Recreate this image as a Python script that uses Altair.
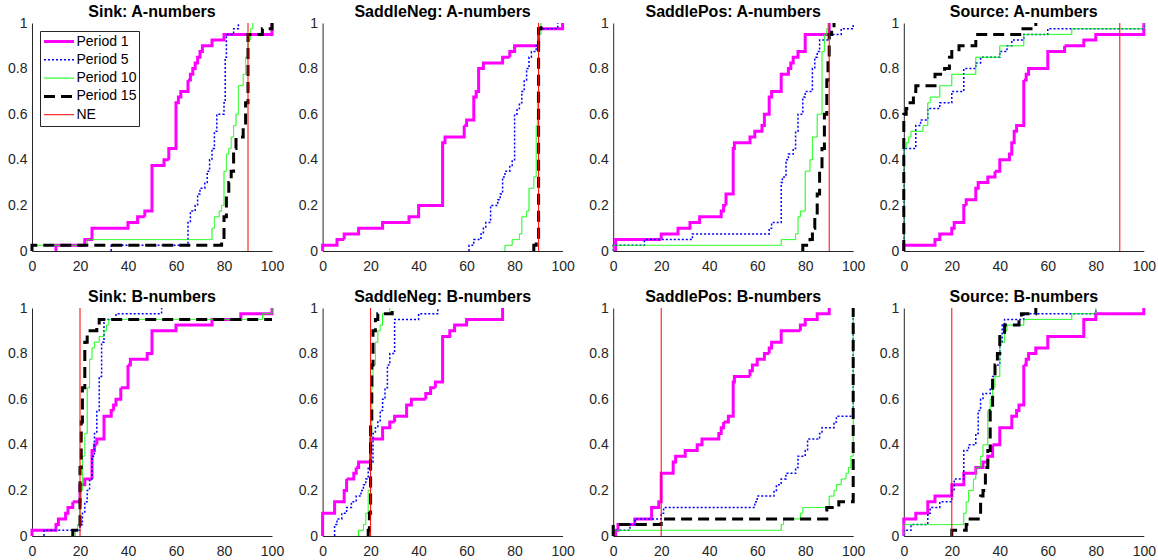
import altair as alt
import pandas as pd

SERIES = ["Period 1", "Period 5", "Period 10", "Period 15", "NE"]
COLORS = ["#FF00FF", "#0000FF", "#00FF00", "#000000", "#FF0000"]
WIDTHS = [3, 1.5, 1, 3, 1]
DASHES = [[1, 0], [2, 2], [1, 0], [11, 6], [1, 0]]

X_TICKS = [0, 20, 40, 60, 80, 100]
Y_TICKS = [0, 0.2, 0.4, 0.6, 0.8, 1]

# ---------------- Sink: A-numbers (NE = 90)
SINK_A_P1_X = [10, 10, 22, 25, 40, 44, 47, 50, 55, 57, 60, 61, 62, 65, 66, 67, 68, 69, 70, 71, 75, 80, 100]
SINK_A_P1_Y = [0, 0.025, 0.05, 0.1, 0.125, 0.15, 0.175, 0.375, 0.4, 0.45, 0.65, 0.675, 0.7, 0.75, 0.775, 0.8, 0.825, 0.85, 0.875, 0.9, 0.925, 0.95, 1.0]
SINK_A_P5_X = [33, 33, 65, 66, 68, 69, 70, 72, 73, 74, 75, 76, 77, 80, 80.5, 81, 84, 86]
SINK_A_P5_Y = [0, 0.025, 0.125, 0.175, 0.2, 0.25, 0.275, 0.3, 0.35, 0.4, 0.45, 0.525, 0.6, 0.65, 0.85, 0.95, 0.975, 1.0]
SINK_A_P10_X = [0, 0, 23, 75, 76, 78, 79, 80, 81, 82, 83, 84, 85, 86, 88, 89, 90, 91, 92]
SINK_A_P10_Y = [0, 0.025, 0.05, 0.1, 0.15, 0.175, 0.2, 0.35, 0.425, 0.45, 0.5, 0.55, 0.6, 0.725, 0.775, 0.85, 0.925, 0.975, 1.0]
SINK_A_P15_X = [0, 0, 79, 80, 81, 82, 83, 84, 85, 88, 89, 90, 96, 100]
SINK_A_P15_Y = [0, 0.025, 0.05, 0.15, 0.25, 0.3, 0.35, 0.45, 0.5, 0.55, 0.65, 0.95, 0.975, 1.0]

# ---------------- SaddleNeg: A-numbers (NE = 90)
SNEG_A_P1_X = [0, 0, 6, 9, 15, 25, 36, 40, 50, 51, 59, 60, 63, 64, 65, 67, 75, 78, 80, 90, 100]
SNEG_A_P1_Y = [0, 0.025, 0.05, 0.075, 0.1, 0.125, 0.15, 0.2, 0.475, 0.5, 0.55, 0.575, 0.675, 0.7, 0.8, 0.825, 0.85, 0.875, 0.9, 0.975, 1.0]
SNEG_A_P5_X = [61, 61, 63, 66, 67, 68, 70, 73, 74, 75, 76, 78, 79, 80, 81, 82, 83, 84, 85, 86, 87, 89, 90, 98]
SNEG_A_P5_Y = [0, 0.025, 0.05, 0.075, 0.1, 0.125, 0.2, 0.225, 0.25, 0.325, 0.35, 0.375, 0.4, 0.6, 0.625, 0.65, 0.7, 0.75, 0.8, 0.85, 0.875, 0.9, 0.975, 1.0]
SNEG_A_P10_X = [76, 76, 79, 82, 83, 85, 86, 88, 89, 89.5, 90, 91]
SNEG_A_P10_Y = [0, 0.025, 0.05, 0.075, 0.15, 0.175, 0.275, 0.325, 0.55, 0.7, 0.95, 1.0]
SNEG_A_P15_X = [88, 88, 89, 90, 91]
SNEG_A_P15_Y = [0, 0.025, 0.05, 0.975, 1.0]

# ---------------- SaddlePos: A-numbers (NE = 90)
SPOS_A_P1_X = [1, 1, 20, 27, 32, 36, 45, 46, 47, 50, 50.5, 57, 59, 62, 63, 65, 66, 70, 73, 74, 75, 77, 80, 90]
SPOS_A_P1_Y = [0, 0.05, 0.075, 0.1, 0.125, 0.15, 0.175, 0.2, 0.25, 0.45, 0.475, 0.5, 0.525, 0.55, 0.6, 0.675, 0.7, 0.775, 0.8, 0.825, 0.85, 0.875, 0.95, 1.0]
SPOS_A_P5_X = [0, 0, 13, 33, 65, 66, 70, 70.5, 72, 73, 75, 76, 77, 79, 80, 83, 84, 85, 86, 90, 95, 100]
SPOS_A_P5_Y = [0, 0.025, 0.05, 0.075, 0.1, 0.125, 0.3, 0.325, 0.4, 0.425, 0.45, 0.525, 0.6, 0.675, 0.7, 0.8, 0.85, 0.875, 0.925, 0.95, 0.975, 1.0]
SPOS_A_P10_X = [0, 0, 70, 76, 77, 78, 80, 82, 83, 85, 87, 88, 89, 90]
SPOS_A_P10_Y = [0, 0.025, 0.05, 0.075, 0.15, 0.175, 0.35, 0.4, 0.5, 0.6, 0.875, 0.95, 0.975, 1.0]
SPOS_A_P15_X = [79, 79, 82, 83, 84, 85, 86, 87, 88, 89, 89.5, 90, 91, 92]
SPOS_A_P15_Y = [0, 0.025, 0.05, 0.1, 0.15, 0.25, 0.35, 0.45, 0.6, 0.75, 0.85, 0.95, 0.975, 1.0]

# ---------------- Source: A-numbers (NE = 90)
SRC_A_P1_X = [0, 0, 13, 15, 20, 21, 25, 26, 30, 31, 35, 38, 40, 44, 45, 46, 47, 50, 51, 52, 60, 67, 75, 80, 100]
SRC_A_P1_Y = [0, 0.025, 0.05, 0.075, 0.1, 0.125, 0.2, 0.225, 0.275, 0.3, 0.325, 0.35, 0.4, 0.425, 0.475, 0.525, 0.55, 0.75, 0.775, 0.8, 0.875, 0.9, 0.925, 0.95, 1.0]
SRC_A_P5_X = [0, 0, 5, 7, 10, 15, 20, 25, 30, 32, 40, 43, 45, 50, 60, 100]
SRC_A_P5_Y = [0, 0.45, 0.55, 0.575, 0.625, 0.65, 0.7, 0.8, 0.825, 0.85, 0.875, 0.9, 0.925, 0.95, 0.975, 1.0]
SRC_A_P10_X = [0, 0, 1, 2, 3, 8, 10, 11, 15, 20, 30, 40, 50, 70, 100]
SRC_A_P10_Y = [0, 0.45, 0.475, 0.5, 0.525, 0.55, 0.65, 0.675, 0.725, 0.775, 0.85, 0.9, 0.95, 0.975, 1.0]
SRC_A_P15_X = [0, 0, 1, 2, 4, 5, 13, 17, 19, 20, 23, 30, 49, 55]
SRC_A_P15_Y = [0, 0.6, 0.625, 0.65, 0.7, 0.725, 0.775, 0.8, 0.85, 0.875, 0.9, 0.95, 0.975, 1.0]

# ---------------- Sink: B-numbers (NE = 20)
SINK_B_P1_X = [0, 0, 10, 11, 14, 15, 17, 20, 22, 25, 26, 27, 30, 33, 34, 35, 37, 40, 41, 48, 50, 60, 75, 87, 100]
SINK_B_P1_Y = [0, 0.025, 0.05, 0.075, 0.1, 0.125, 0.15, 0.225, 0.25, 0.375, 0.4, 0.425, 0.525, 0.55, 0.575, 0.6, 0.65, 0.75, 0.775, 0.8, 0.9, 0.925, 0.95, 0.975, 1.0]
SINK_B_P5_X = [5, 5, 20, 21, 22, 23, 24, 25, 26, 27, 28, 29, 30, 35, 54]
SINK_B_P5_Y = [0, 0.025, 0.05, 0.1, 0.15, 0.2, 0.25, 0.35, 0.45, 0.55, 0.7, 0.85, 0.95, 0.975, 1.0]
SINK_B_P10_X = [18, 18, 19, 20, 21, 22, 23, 24, 25, 26, 28, 30, 31, 32, 96, 100]
SINK_B_P10_Y = [0, 0.025, 0.05, 0.2, 0.35, 0.45, 0.65, 0.775, 0.825, 0.85, 0.875, 0.9, 0.925, 0.95, 0.975, 1.0]
SINK_B_P15_X = [17, 17, 20, 20.5, 21, 22, 23, 27, 28, 100]
SINK_B_P15_Y = [0, 0.025, 0.3, 0.5, 0.65, 0.85, 0.9, 0.925, 0.95, 0.95]

# ---------------- SaddleNeg: B-numbers (NE = 20)
SNEG_B_P1_X = [0, 0, 5, 9, 10, 13, 14, 15, 20, 25, 28, 30, 35, 37, 43, 45, 47, 50, 53, 55, 60, 75]
SNEG_B_P1_Y = [0, 0.1, 0.15, 0.2, 0.25, 0.275, 0.3, 0.325, 0.425, 0.475, 0.5, 0.525, 0.575, 0.6, 0.625, 0.65, 0.675, 0.875, 0.9, 0.925, 0.95, 1.0]
SNEG_B_P5_X = [5, 5, 6, 8, 10, 12, 14, 16, 17, 18, 19, 20, 21, 22, 23, 24, 25, 26, 27, 28, 30, 40, 48]
SNEG_B_P5_Y = [0, 0.05, 0.075, 0.1, 0.125, 0.15, 0.175, 0.2, 0.225, 0.25, 0.3, 0.325, 0.45, 0.475, 0.5, 0.55, 0.6, 0.65, 0.75, 0.8, 0.95, 0.975, 1.0]
SNEG_B_P10_X = [15, 15, 17, 18, 19, 20, 20.5, 21, 22, 23, 24, 25, 28]
SNEG_B_P10_Y = [0, 0.025, 0.05, 0.1, 0.2, 0.45, 0.65, 0.75, 0.85, 0.9, 0.925, 0.975, 1.0]
SNEG_B_P15_X = [19, 19, 19.5, 20, 20.5, 21, 22, 23, 29]
SNEG_B_P15_Y = [0, 0.025, 0.1, 0.5, 0.75, 0.9, 0.95, 0.975, 1.0]

# ---------------- SaddlePos: B-numbers (NE = 20)
SPOS_B_P1_X = [1, 1, 2, 9, 16, 19, 20, 25, 26, 30, 35, 37, 44, 45, 46, 48, 50, 50.5, 57, 58, 60, 63, 65, 66, 70, 78, 80, 85, 90]
SPOS_B_P1_Y = [0, 0.025, 0.05, 0.075, 0.125, 0.15, 0.275, 0.325, 0.35, 0.375, 0.4, 0.425, 0.45, 0.475, 0.5, 0.525, 0.675, 0.7, 0.725, 0.75, 0.775, 0.8, 0.825, 0.85, 0.9, 0.925, 0.95, 0.975, 1.0]
SPOS_B_P5_X = [0, 0, 7, 9, 20, 21, 59, 60, 67, 68, 70, 72, 76, 77, 80, 81, 86, 87, 92, 93, 100]
SPOS_B_P5_Y = [0, 0.025, 0.05, 0.075, 0.1, 0.125, 0.15, 0.175, 0.2, 0.225, 0.25, 0.275, 0.3, 0.35, 0.375, 0.425, 0.45, 0.475, 0.5, 0.525, 1.0]
SPOS_B_P10_X = [0, 0, 70, 71, 78, 79, 90, 92, 93, 95, 97, 98, 99, 100]
SPOS_B_P10_Y = [0, 0.025, 0.05, 0.075, 0.1, 0.125, 0.175, 0.2, 0.225, 0.25, 0.275, 0.3, 0.35, 1.0]
SPOS_B_P15_X = [0, 0, 20, 89, 94, 100]
SPOS_B_P15_Y = [0, 0.05, 0.075, 0.125, 0.15, 1.0]

# ---------------- Source: B-numbers (NE = 20)
SRC_B_P1_X = [0, 0, 5, 10, 13, 20, 25, 30, 33, 35, 37, 40, 45, 47, 48, 50, 51, 52, 55, 60, 75, 80, 100]
SRC_B_P1_Y = [0, 0.075, 0.1, 0.15, 0.175, 0.225, 0.275, 0.3, 0.325, 0.35, 0.4, 0.475, 0.525, 0.55, 0.575, 0.75, 0.775, 0.8, 0.825, 0.875, 0.95, 0.975, 1.0]
SRC_B_P5_X = [0, 0, 3, 10, 11, 15, 20, 21, 25, 27, 30, 31, 32, 33, 36, 37, 38, 40, 41, 42, 50, 80]
SRC_B_P5_Y = [0, 0.025, 0.05, 0.1, 0.125, 0.15, 0.2, 0.25, 0.375, 0.4, 0.45, 0.55, 0.6, 0.625, 0.65, 0.7, 0.75, 0.85, 0.925, 0.95, 0.975, 1.0]
SRC_B_P10_X = [0, 0, 25, 26, 27, 29, 30, 32, 33, 35, 36, 37, 38, 40, 42, 43, 50, 70, 80]
SRC_B_P10_Y = [0, 0.05, 0.1, 0.15, 0.2, 0.25, 0.3, 0.35, 0.4, 0.55, 0.6, 0.65, 0.7, 0.85, 0.9, 0.925, 0.95, 0.975, 1.0]
SRC_B_P15_X = [20, 20, 26, 27, 32, 33, 34, 35, 36, 37, 38, 39, 40, 42, 48, 49, 55]
SRC_B_P15_Y = [0, 0.025, 0.05, 0.075, 0.175, 0.2, 0.3, 0.375, 0.55, 0.7, 0.75, 0.8, 0.875, 0.925, 0.95, 0.975, 1.0]

TITLES = ["Sink: A-numbers", "SaddleNeg: A-numbers", "SaddlePos: A-numbers", "Source: A-numbers",
          "Sink: B-numbers", "SaddleNeg: B-numbers", "SaddlePos: B-numbers", "Source: B-numbers"]
NE_VALUES = [90, 90, 90, 90, 20, 20, 20, 20]
CURVES = [
    [(SINK_A_P1_X, SINK_A_P1_Y), (SINK_A_P5_X, SINK_A_P5_Y), (SINK_A_P10_X, SINK_A_P10_Y), (SINK_A_P15_X, SINK_A_P15_Y)],
    [(SNEG_A_P1_X, SNEG_A_P1_Y), (SNEG_A_P5_X, SNEG_A_P5_Y), (SNEG_A_P10_X, SNEG_A_P10_Y), (SNEG_A_P15_X, SNEG_A_P15_Y)],
    [(SPOS_A_P1_X, SPOS_A_P1_Y), (SPOS_A_P5_X, SPOS_A_P5_Y), (SPOS_A_P10_X, SPOS_A_P10_Y), (SPOS_A_P15_X, SPOS_A_P15_Y)],
    [(SRC_A_P1_X, SRC_A_P1_Y), (SRC_A_P5_X, SRC_A_P5_Y), (SRC_A_P10_X, SRC_A_P10_Y), (SRC_A_P15_X, SRC_A_P15_Y)],
    [(SINK_B_P1_X, SINK_B_P1_Y), (SINK_B_P5_X, SINK_B_P5_Y), (SINK_B_P10_X, SINK_B_P10_Y), (SINK_B_P15_X, SINK_B_P15_Y)],
    [(SNEG_B_P1_X, SNEG_B_P1_Y), (SNEG_B_P5_X, SNEG_B_P5_Y), (SNEG_B_P10_X, SNEG_B_P10_Y), (SNEG_B_P15_X, SNEG_B_P15_Y)],
    [(SPOS_B_P1_X, SPOS_B_P1_Y), (SPOS_B_P5_X, SPOS_B_P5_Y), (SPOS_B_P10_X, SPOS_B_P10_Y), (SPOS_B_P15_X, SPOS_B_P15_Y)],
    [(SRC_B_P1_X, SRC_B_P1_Y), (SRC_B_P5_X, SRC_B_P5_Y), (SRC_B_P10_X, SRC_B_P10_Y), (SRC_B_P15_X, SRC_B_P15_Y)],
]

FONT = "Liberation Sans"
PW, PH = 240, 228

x_enc = alt.X("x:Q", scale=alt.Scale(domain=[0, 100], nice=False, zero=False),
              axis=alt.Axis(values=X_TICKS, format="d", title=None, ticks=False, grid=False,
                            labelFlush=False, labelPadding=8, minExtent=22, maxExtent=22))
y_enc = alt.Y("y:Q", scale=alt.Scale(domain=[0, 1], nice=False, zero=False),
              axis=alt.Axis(values=Y_TICKS, format="~g", title=None, ticks=False, grid=False,
                            labelFlush=False, labelPadding=5, minExtent=27, maxExtent=27))
color_enc = alt.Color("series:N", scale=alt.Scale(domain=SERIES, range=COLORS), title=None)
dash_enc = alt.StrokeDash("series:N", scale=alt.Scale(domain=SERIES, range=DASHES), title=None)
width_enc = alt.StrokeWidth("series:N", scale=alt.Scale(type="ordinal", domain=SERIES, range=WIDTHS),
                            title=None)


def make_panel(title, ne, curves):
    layers = []
    for name, (xs, ys) in zip(SERIES[:4], curves):
        df = pd.DataFrame({"x": xs, "y": ys, "series": name, "i": list(range(len(xs)))})
        layers.append(
            alt.Chart(df).mark_line(interpolate="step-after").encode(
                x=x_enc, y=y_enc, order="i:Q",
                color=color_enc, strokeDash=dash_enc, strokeWidth=width_enc)
        )
    ne_df = pd.DataFrame({"x": [ne], "series": ["NE"]})
    layers.append(
        alt.Chart(ne_df).mark_rule().encode(
            x=x_enc, color=color_enc, strokeDash=dash_enc, strokeWidth=width_enc)
    )
    return alt.layer(*layers).properties(
        width=PW, height=PH,
        title=alt.TitleParams(title, fontSize=16, fontWeight="bold", font=FONT, color="black",
                              anchor="middle", frame="group", baseline="bottom", offset=-20),
    )


panels = [make_panel(t, n, c) for t, n, c in zip(TITLES, NE_VALUES, CURVES)]
top = alt.hconcat(*panels[:4], spacing=11.6)
bottom = alt.hconcat(*panels[4:], spacing=11.6)

chart = alt.vconcat(top, bottom, spacing=16).configure_view(
    strokeOpacity=0
).configure_axis(
    labelFont=FONT, labelFontSize=14, labelColor="#262626",
    domainColor="#262626", domainWidth=1,
).configure_legend(
    orient="none", legendX=8, legendY=8,
    labelFont=FONT, labelFontSize=14, labelColor="black",
    symbolType="stroke", symbolSize=900, labelOffset=1,
    clipHeight=16, padding=2.5, rowPadding=2.3,
    strokeColor="#262626", fillColor="white",
).properties(
    background="white",
    padding={"left": 5, "right": 1, "top": 4, "bottom": 1},
)

chart.save("out.html", embed_options={"renderer": "svg", "actions": False})
